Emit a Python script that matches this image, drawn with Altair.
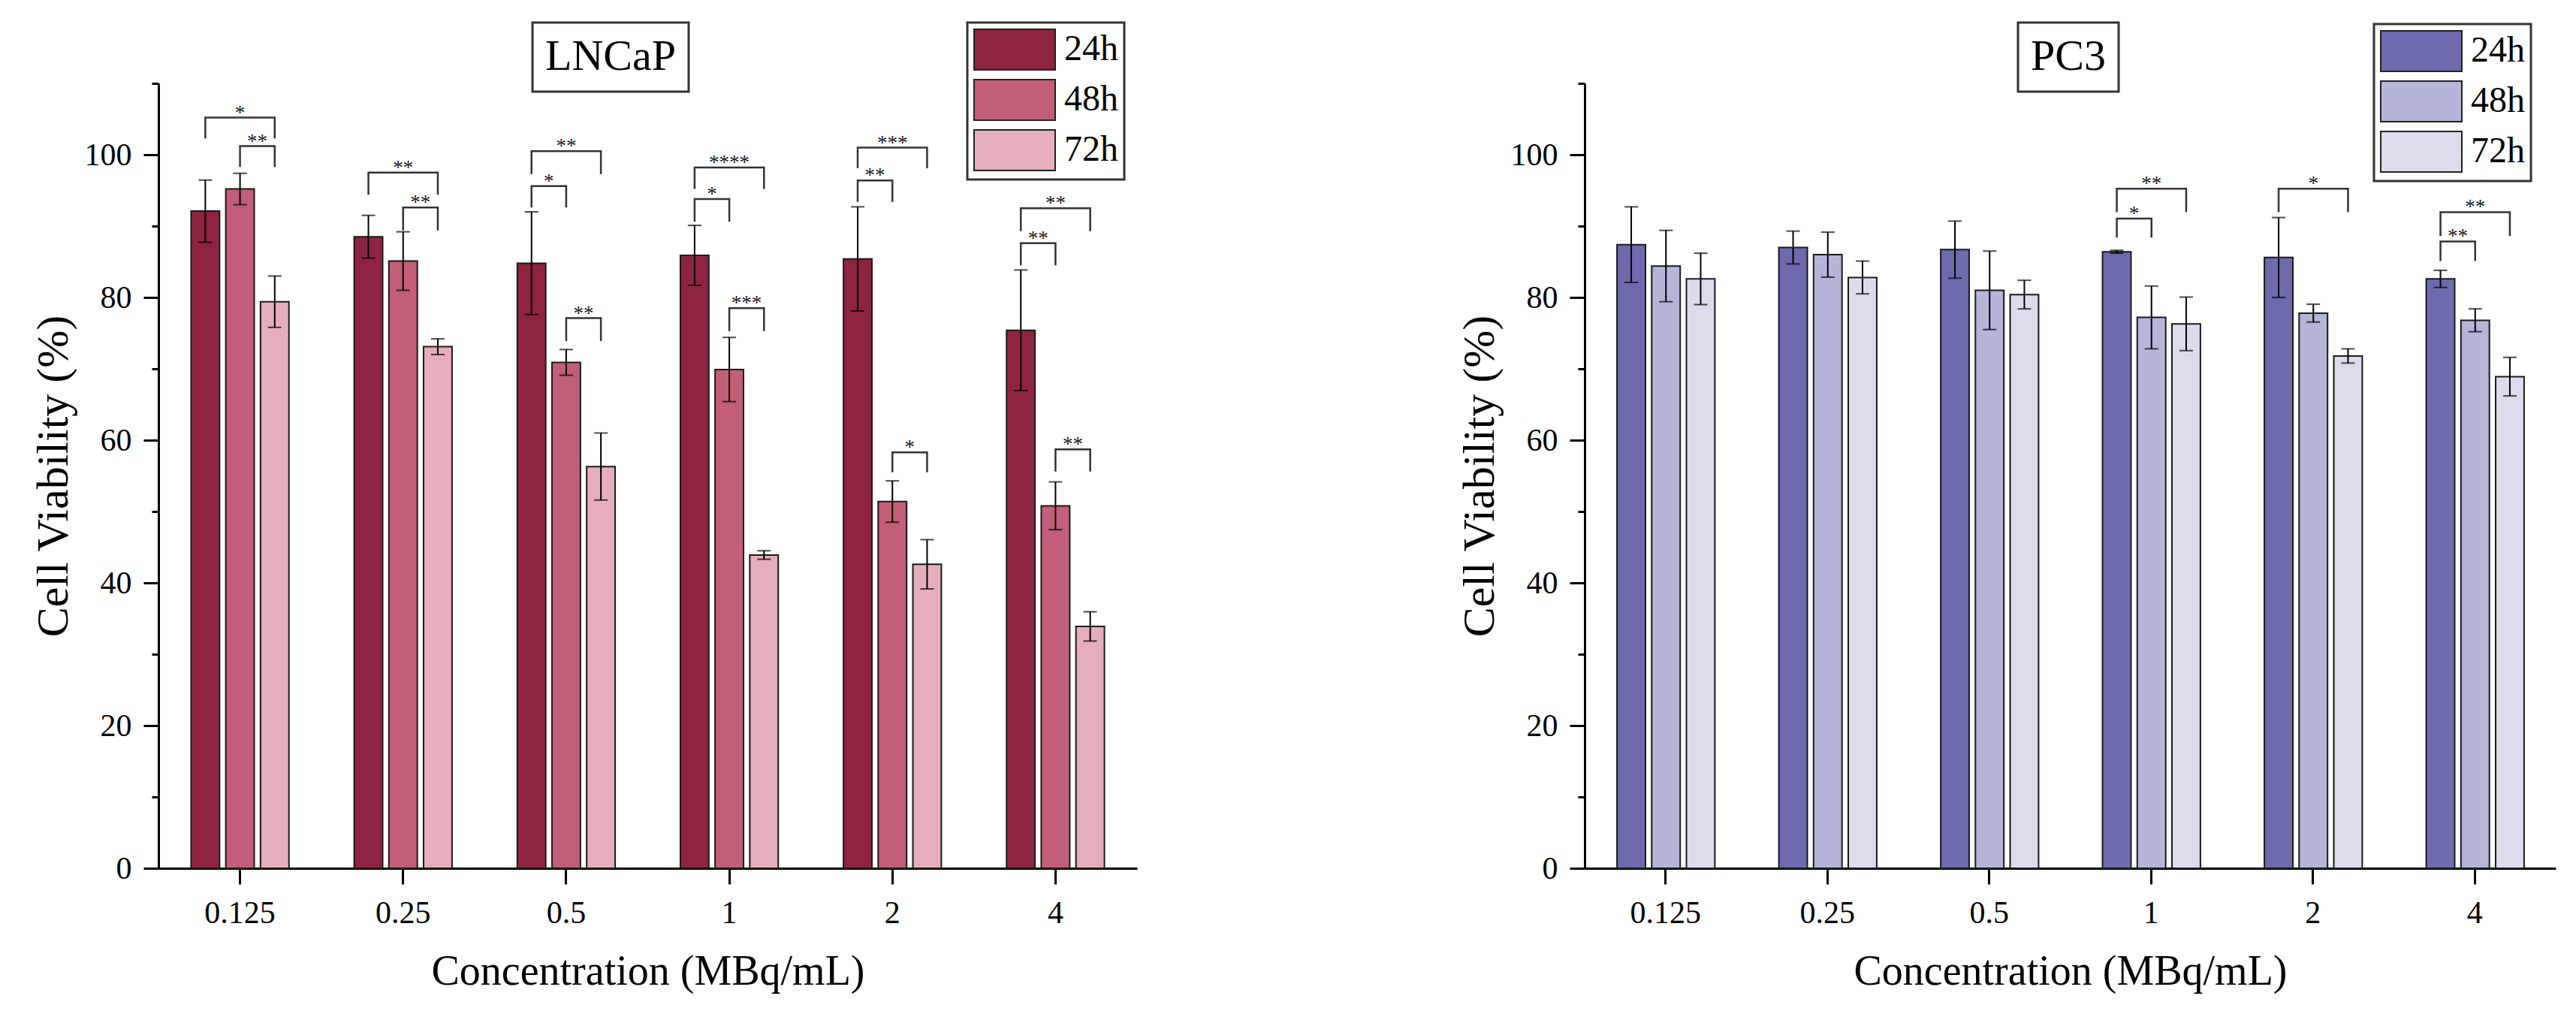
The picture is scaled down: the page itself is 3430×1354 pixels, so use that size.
import altair as alt
import pandas as pd

FONT = "Liberation Serif"

concentrations = ["0.125", "0.25", "0.5", "1", "2", "4"]
times = ["24h", "48h", "72h"]

# LNCaP means and errors
lncap_24h = [92.1, 88.5, 84.8, 85.9, 85.4, 75.4]
lncap_48h = [95.2, 85.1, 70.9, 69.9, 51.4, 50.8]
lncap_72h = [79.4, 73.1, 56.3, 43.9, 42.6, 33.9]
lncap_24h_err = [4.35, 3.0, 7.2, 4.2, 7.3, 8.45]
lncap_48h_err = [2.2, 4.1, 1.8, 4.5, 2.9, 3.35]
lncap_72h_err = [3.6, 1.1, 4.7, 0.6, 3.45, 2.05]

# PC3 means and errors
pc3_24h = [87.4, 87.0, 86.7, 86.4, 85.6, 82.6]
pc3_48h = [84.4, 86.0, 81.0, 77.2, 77.8, 76.8]
pc3_72h = [82.6, 82.8, 80.4, 76.3, 71.8, 68.9]
pc3_24h_err = [5.3, 2.3, 4.0, 0.2, 5.6, 1.2]
pc3_48h_err = [5.0, 3.15, 5.5, 4.4, 1.25, 1.6]
pc3_72h_err = [3.6, 2.3, 2.0, 3.75, 1.0, 2.7]

# significance brackets: concentration, from, to, top value, leg bottom, label
lncap_br_conc = ["0.125", "0.125", "0.25", "0.25", "0.5", "0.5", "0.5", "1", "1", "1", "2", "2", "2", "4", "4", "4"]
lncap_br_from = ["24h", "48h", "24h", "48h", "24h", "24h", "48h", "24h", "24h", "48h", "24h", "24h", "48h", "24h", "24h", "48h"]
lncap_br_to = ["72h", "72h", "72h", "72h", "72h", "48h", "72h", "72h", "48h", "72h", "72h", "48h", "72h", "72h", "48h", "72h"]
lncap_br_top = [105.2, 101.2, 97.5, 92.6, 100.5, 95.6, 77.1, 98.2, 93.8, 78.5, 101.0, 96.4, 58.3, 92.5, 87.6, 58.7]
lncap_br_bottom = [102.3, 98.3, 94.4, 89.4, 97.3, 92.6, 73.9, 95.2, 90.6, 75.3, 98.1, 93.4, 55.5, 89.3, 84.5, 55.6]
lncap_br_label = ["*", "**", "**", "**", "**", "*", "**", "****", "*", "***", "***", "**", "*", "**", "**", "**"]

pc3_br_conc = ["1", "1", "2", "4", "4"]
pc3_br_from = ["24h", "24h", "24h", "24h", "24h"]
pc3_br_to = ["72h", "48h", "72h", "72h", "48h"]
pc3_br_top = [95.25, 91.05, 95.25, 91.96, 87.85]
pc3_br_bottom = [91.96, 88.4, 91.96, 88.6, 85.1]
pc3_br_label = ["**", "*", "*", "**", "**"]

lncap_colors = ["#8E2440", "#C25E78", "#E6AEBB"]
pc3_colors = ["#6E6AAE", "#B5B4D9", "#DCDCEC"]


def bar_frame(means, errs):
    rows = []
    for t, ml, el in zip(times, means, errs):
        for c, m, e in zip(concentrations, ml, el):
            rows.append({"conc": c, "time": t, "mean": m, "lo": m - e, "hi": m + e})
    return pd.DataFrame(rows)


def bracket_frames(conc, frm, to, top, bottom, label):
    lines, span, adj = [], [], []
    for i, (c, f, t, tp, bt, lb) in enumerate(zip(conc, frm, to, top, bottom, label)):
        for k, (s, yv) in enumerate([(f, bt), (f, tp), (t, tp), (t, bt)]):
            lines.append({"id": i, "k": k, "conc": c, "time": s, "y": yv})
        fi, ti = times.index(f), times.index(t)
        if ti - fi == 2:
            span.append({"conc": c, "time": times[fi + 1], "top": tp, "label": lb})
        else:
            adj.append({"conc": c, "time": f, "top": tp, "label": lb})
    return pd.DataFrame(lines), pd.DataFrame(span), pd.DataFrame(adj)


def panel(name, bars_df, br, colors, w, h, leg_x, leg_y, tit_x, tit_y):
    lines_df, span_df, adj_df = br
    x = alt.X(
        "conc:N",
        sort=concentrations,
        scale=alt.Scale(domain=concentrations, paddingInner=0.4, paddingOuter=0.2),
        axis=alt.Axis(title="Concentration (MBq/mL)", labelAngle=0, tickSize=21,
                      labelPadding=18, titlePadding=30, titleFontSize=56, labelFontSize=42,
                      labelFont=FONT, titleFont=FONT, labelColor="black"),
    )
    xo = alt.XOffset("time:N", scale=alt.Scale(domain=times, paddingInner=0.18, paddingOuter=0))
    y_scale = alt.Scale(domain=[0, 110], nice=False)
    y_axis = alt.Axis(
        title="Cell Viability (%)",
        values=list(range(0, 111, 10)),
        labelExpr="datum.value % 20 === 0 && datum.value <= 100 ? datum.label : ''",
        tickSize={"condition": {"test": "datum.value % 20 === 0", "value": 20}, "value": 9},
        labelPadding=16, titlePadding=10, titleFontSize=60, labelFontSize=42,
        labelFont=FONT, titleFont=FONT, labelColor="black",
    )

    base = alt.Chart(bars_df)
    bars = base.mark_bar(stroke="#1a1a1a", strokeWidth=2).encode(
        x=x, xOffset=xo,
        y=alt.Y("mean:Q", scale=y_scale, axis=y_axis),
        color=alt.Color(
            "time:N",
            scale=alt.Scale(domain=times, range=colors),
            legend=alt.Legend(
                orient="none", legendX=leg_x, legendY=leg_y, title=None,
                symbolType="M-1,-1H3V1H-1Z", symbolSize=2916,
                symbolStrokeColor="#222222", symbolStrokeWidth=2, symbolOpacity=1,
                labelFont=FONT, labelFontSize=48, labelColor="black", labelOffset=65,
                rowPadding=5, padding=8, fillColor="white", strokeColor="#333333",
            ),
        ),
    )
    err = base.mark_rule(color="black", strokeWidth=2).encode(
        x=x, xOffset=xo, y=alt.Y("lo:Q", scale=y_scale, axis=y_axis), y2="hi:Q"
    )
    caps = base.transform_fold(["lo", "hi"], as_=["which", "v"]).mark_tick(
        color="black", thickness=2, size=18
    ).encode(x=x, xOffset=xo, y=alt.Y("v:Q", scale=y_scale, axis=y_axis))

    layers = [bars, err, caps]

    lines = alt.Chart(lines_df).mark_line(color="#333333", strokeWidth=2.5).encode(
        x=x, xOffset=xo, y=alt.Y("y:Q", scale=y_scale, axis=y_axis),
        detail="id:N", order="k:Q",
    )
    layers.append(lines)
    if len(span_df):
        layers.append(
            alt.Chart(span_df).mark_text(font=FONT, fontSize=27, baseline="alphabetic", dy=2, color="#1a1a1a").encode(
                x=x, xOffset=xo, y=alt.Y("top:Q", scale=y_scale, axis=y_axis), text="label:N"
            )
        )
    if len(adj_df):
        layers.append(
            alt.Chart(adj_df).mark_text(font=FONT, fontSize=27, baseline="alphabetic", dy=2, dx=23, color="#1a1a1a").encode(
                x=x, xOffset=xo, y=alt.Y("top:Q", scale=y_scale, axis=y_axis), text="label:N"
            )
        )

    title_box = alt.Chart(pd.DataFrame({"cell": [name]})).mark_point(opacity=0).encode(
        shape=alt.Shape(
            "cell:N",
            legend=alt.Legend(
                orient="none", legendX=tit_x, legendY=tit_y, title=None,
                symbolSize=0, symbolOpacity=0, symbolStrokeWidth=0,
                labelFont=FONT, labelFontSize=58, labelColor="black",
                labelOffset={"expr": "-58"},
                labelLimit=0, padding=17, fillColor="white", strokeColor="#333333",
            ),
        )
    )
    layers.append(title_box)
    return alt.layer(*layers).properties(width=w, height=h)


lncap = panel(
    "LNCaP",
    bar_frame([lncap_24h, lncap_48h, lncap_72h], [lncap_24h_err, lncap_48h_err, lncap_72h_err]),
    bracket_frames(lncap_br_conc, lncap_br_from, lncap_br_to, lncap_br_top, lncap_br_bottom, lncap_br_label),
    lncap_colors, 1303, 1045, 1077, -81, 498, -81,
)
pc3 = panel(
    "PC3",
    bar_frame([pc3_24h, pc3_48h, pc3_72h], [pc3_24h_err, pc3_48h_err, pc3_72h_err]),
    bracket_frames(pc3_br_conc, pc3_br_from, pc3_br_to, pc3_br_top, pc3_br_bottom, pc3_br_label),
    pc3_colors, 1293, 1045, 1051, -79, 577, -81,
)

chart = (
    alt.hconcat(lncap, pc3, spacing=426)
    .resolve_scale(color="independent", shape="independent")
    .configure_view(stroke=None)
    .configure_axis(
        labelFont=FONT, titleFont=FONT, titleFontWeight="normal",
        labelColor="black", titleColor="black", domainColor="black", tickColor="black",
        domainWidth=3, tickWidth=3, grid=False,
    )
    .configure_legend(strokeWidth=3)
    .properties(padding={"left": 33, "top": 20, "right": 5, "bottom": 5}, background="white")
)

chart.save("out.html", embed_options={"renderer": "svg", "actions": False})
